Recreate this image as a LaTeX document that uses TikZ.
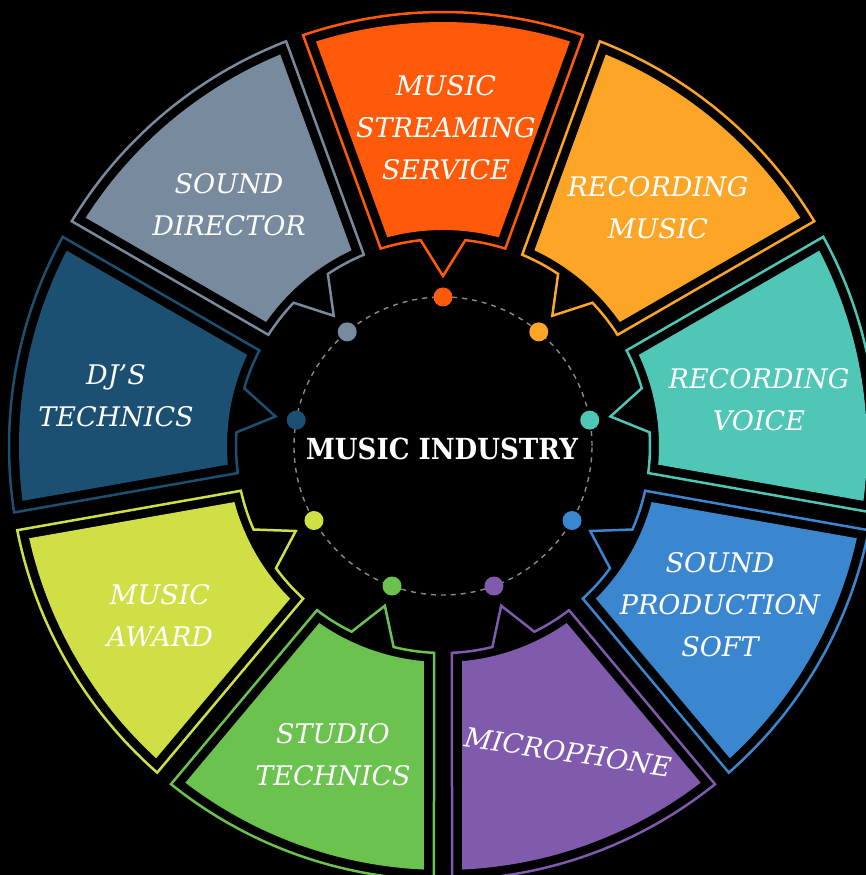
\documentclass[tikz,border=0pt]{standalone}
\usepackage{fontspec}
\setmainfont{DejaVu Serif}
\definecolor{cOrange}{HTML}{FF5A09}
\definecolor{cGold}{HTML}{FDA526}
\definecolor{cTeal}{HTML}{4FC6B6}
\definecolor{cBlue}{HTML}{3B87CF}
\definecolor{cPurple}{HTML}{7F5AAD}
\definecolor{cGreen}{HTML}{6BC24F}
\definecolor{cYellow}{HTML}{D0DF46}
\definecolor{cDark}{HTML}{1B5072}
\definecolor{cGray}{HTML}{788A9E}
\definecolor{cDash}{HTML}{8A8A8A}
\begin{document}
\begin{tikzpicture}[x=1pt,y=1pt,
  segline/.style={line width=2.5pt, line join=miter},
  label/.style={text=white, align=center, inner sep=0pt,
    font=\itshape\fontsize{27}{42}\selectfont},
  hub/.style={text=white, inner sep=0pt,
    font=\bfseries\fontsize{29}{34}\selectfont},
  ring/.style={cDash, line width=1.4pt, dash pattern=on 5pt off 5pt}]
\fill[black] (-443,-429) rectangle (423,446);
\useasboundingbox (-443,-429) rectangle (423,446);
\foreach \a/\c in {90/cOrange,50/cGold,10/cTeal,-30/cBlue,-70/cPurple,
                   -110/cGreen,-150/cYellow,170/cDark,130/cGray}{
  \draw[segline, draw=\c] ({\a+18.81}:434)
     arc[start angle={\a+18.81}, end angle={\a-18.81}, radius=434]
     -- ({\a-17.51}:207)
     arc[start angle={\a-17.51}, end angle={\a-6.2}, radius=207]
     -- (\a:170) -- ({\a+6.2}:207)
     arc[start angle={\a+6.2}, end angle={\a+17.51}, radius=207] -- cycle;
  \fill[\c] ({\a+17.43}:424)
     arc[start angle={\a+17.43}, end angle={\a-17.43}, radius=424]
     -- ({\a-14.95}:216)
     arc[start angle={\a-14.95}, end angle={\a+14.95}, radius=216] -- cycle;
}
\draw[ring] (0,0) circle[radius=149];
\foreach \a/\c in {90/cOrange,50/cGold,10/cTeal,-30/cBlue,-70/cPurple,
                   -110/cGreen,-150/cYellow,170/cDark,130/cGray}{
  \fill[\c] (\a:149) circle[radius=9.5];
}
\node[hub] (hub) at (-1,-3) {\scalebox{0.9}[1]{MUSIC INDUSTRY}};
\node[label] (t1) at (3,318) {MUSIC\\STREAMING\\SERVICE};
\node[label] (t2) at (215,238.5) {RECORDING\\MUSIC};
\node[label] (t3) at (316,46) {RECORDING\\VOICE};
\node[label] (t4) at (277,-159) {SOUND\\PRODUCTION\\SOFT};
\node[label, rotate=-8.5] (t5) at (125,-306) {MICROPHONE};
\node[label] (t6) at (-110,-309) {STUDIO\\TECHNICS};
\node[label] (t7) at (-283,-169) {MUSIC\\AWARD};
\node[label] (t8) at (-327,50) {DJ’S\\TECHNICS};
\node[label] (t9) at (-214,241) {SOUND\\DIRECTOR};
\end{tikzpicture}
\end{document}
